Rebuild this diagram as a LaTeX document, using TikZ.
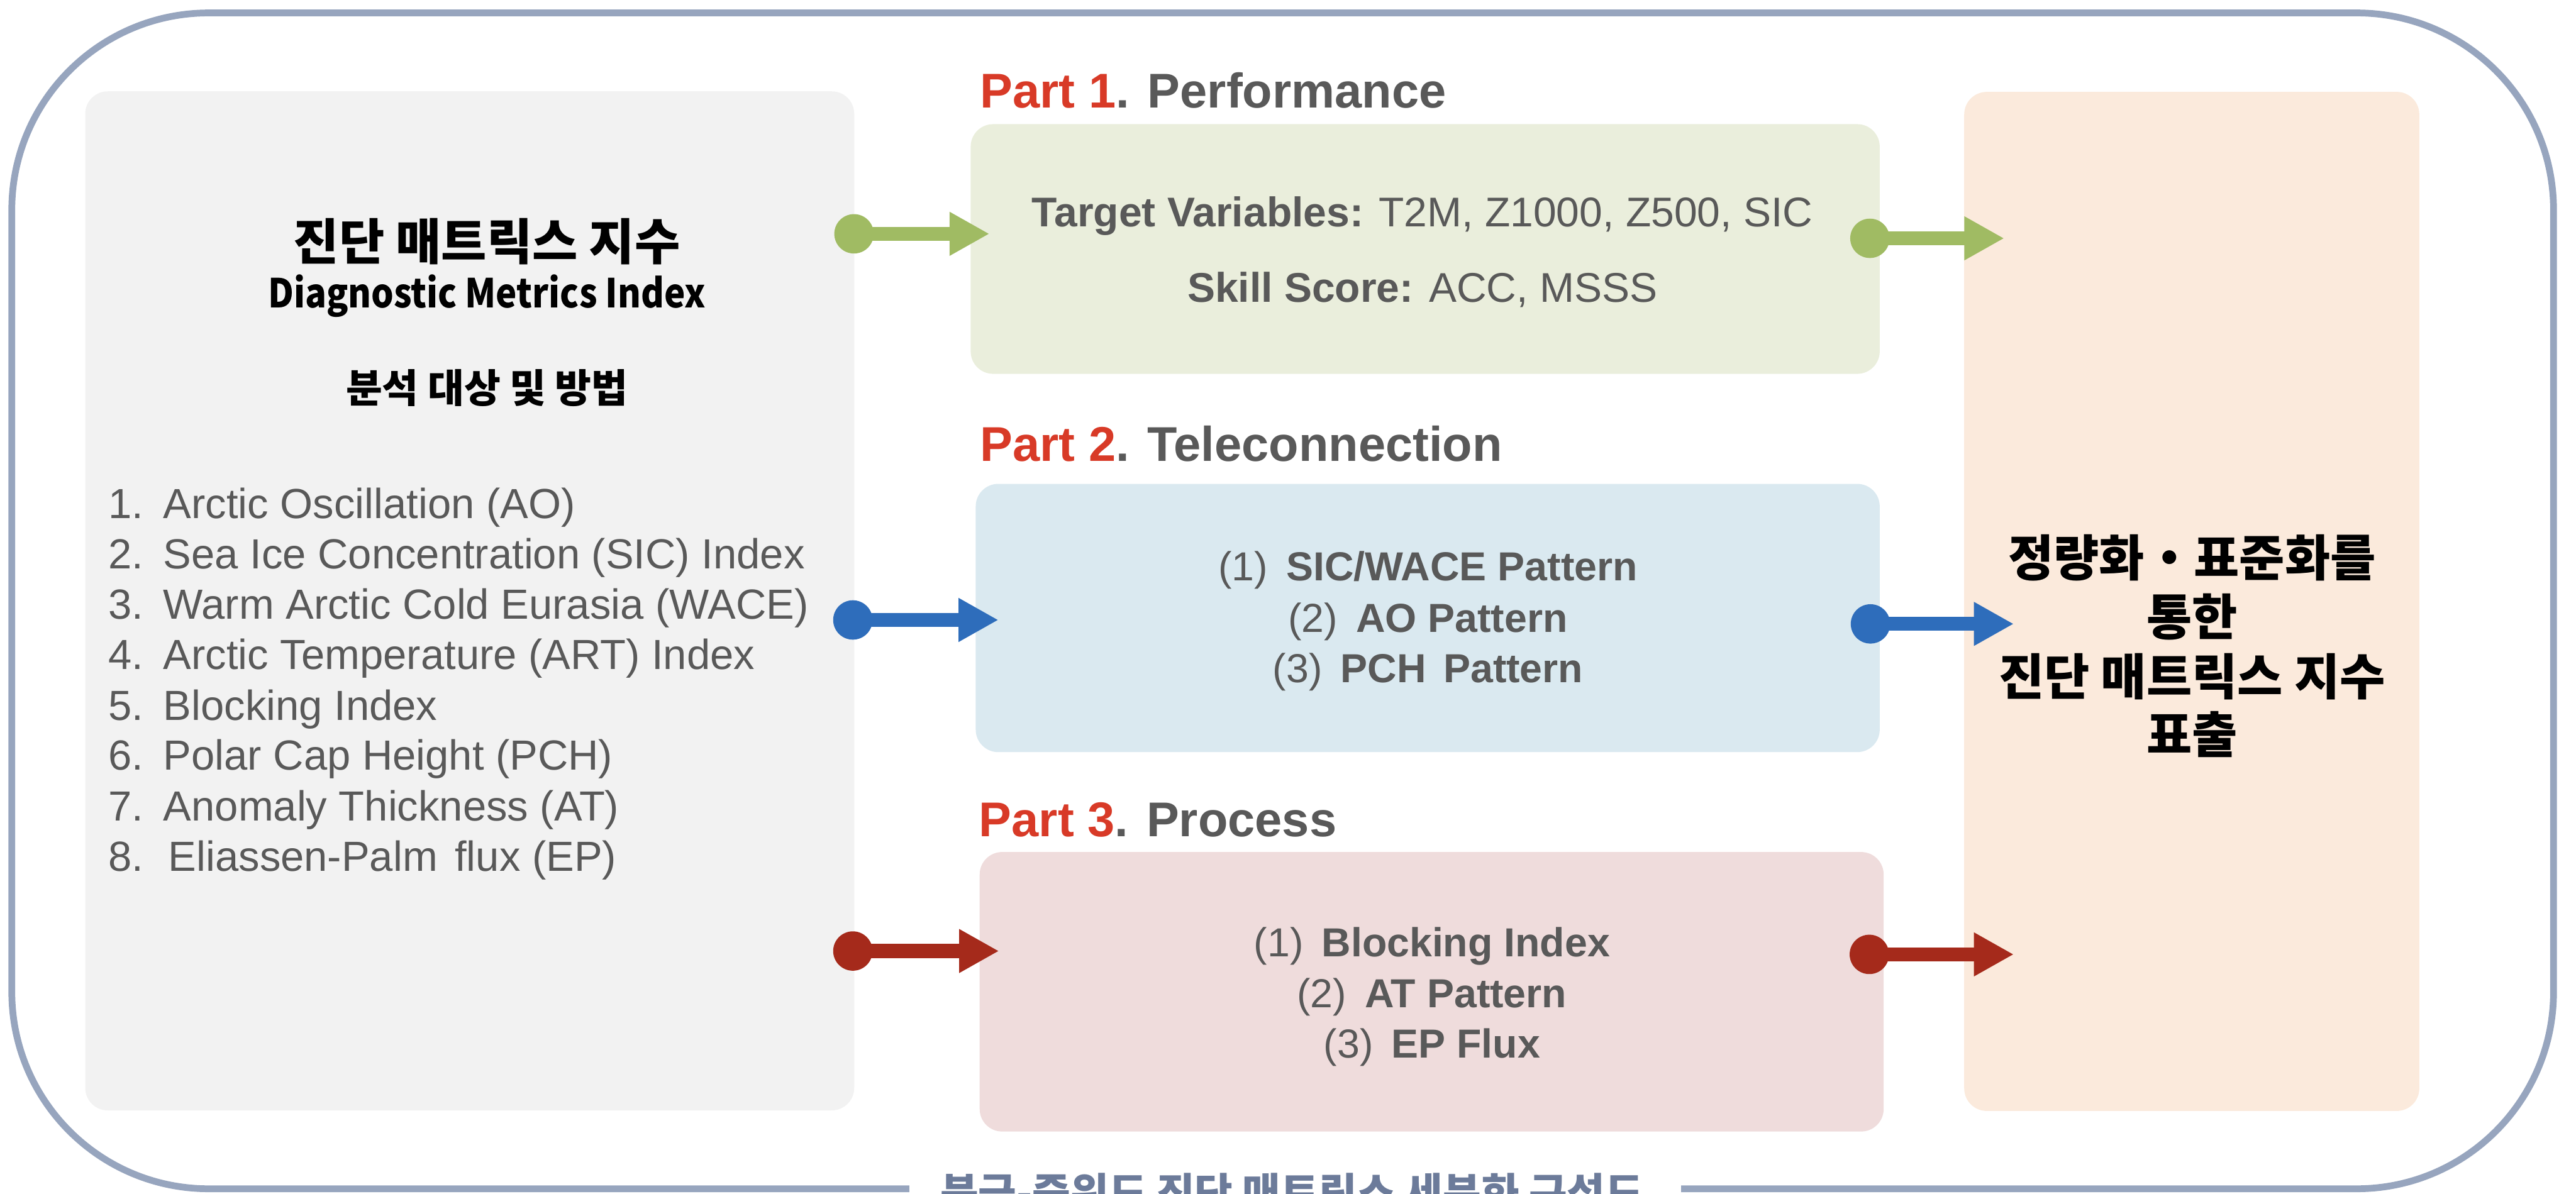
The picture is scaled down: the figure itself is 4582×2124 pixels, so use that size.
\documentclass[tikz,border=0pt]{standalone}
\usepackage{fontspec}
\setmainfont{Liberation Sans}
\newfontfamily\kr{Noto Sans CJK KR}
\usetikzlibrary{arrows.meta}
\definecolor{framec}{HTML}{97A5BE}
\definecolor{botc}{HTML}{6C7B9A}
\definecolor{grayboxc}{HTML}{F2F2F2}
\definecolor{gboxc}{HTML}{EAEEDC}
\definecolor{bboxc}{HTML}{DAE9F0}
\definecolor{rboxc}{HTML}{EFDCDC}
\definecolor{oboxc}{HTML}{FBEADC}
\definecolor{txtc}{HTML}{595959}
\definecolor{partred}{HTML}{D83A27}
\definecolor{garc}{HTML}{A0BB63}
\definecolor{barc}{HTML}{2E6DBB}
\definecolor{rarc}{HTML}{A52A1B}
\begin{document}
\begin{tikzpicture}[x=0.01cm,y=-0.01cm,
  panel/.style={draw=none,rounded corners=0.4cm,inner sep=0pt},
  txt/.style={inner sep=0pt,text=txtc},
  listtxt/.style={txt,anchor=base west,font=\fontsize{21.3}{25}\selectfont},
  parttxt/.style={txt,anchor=base west,font=\fontsize{24.7}{29}\selectfont\bfseries},
  boxtxt/.style={txt,anchor=base,font=\fontsize{20.5}{25}\selectfont},
  krtitle/.style={inner sep=0pt,anchor=base,text=black,font=\kr\bfseries\fontsize{25}{30}\selectfont},
  dot/.style={circle,inner sep=0pt,minimum size=0.7cm},
  conn/.style={line width=0.25cm,-{Triangle[length=0.71cm,width=0.73cm]}}
]
\useasboundingbox (0,0) rectangle (4582,2124);
% outer frame
\draw[framec,line width=0.12cm,rounded corners=3.5cm] (21,23) rectangle (4542,2115);
% bottom caption
\fill[white] (1618,2080) rectangle (2990,2130);
\node[inner sep=0pt,anchor=base,text=botc,font=\kr\bfseries\fontsize{21}{25}\selectfont] (caption) at (2298,2150) {북극-중위도 진단 매트릭스 세분화 구성도};

% panels
\node[panel,fill=grayboxc,minimum width=13.67cm,minimum height=18.12cm] (left) at (835.5,1069) {};
\node[panel,fill=gboxc,minimum width=16.16cm,minimum height=4.44cm] (p1) at (2535,443) {};
\node[panel,fill=bboxc,minimum width=16.07cm,minimum height=4.77cm] (p2) at (2539.5,1099.5) {};
\node[panel,fill=rboxc,minimum width=16.07cm,minimum height=4.97cm] (p3) at (2546.5,1764.5) {};
\node[panel,fill=oboxc,minimum width=8.09cm,minimum height=18.12cm] (out) at (3898.5,1070) {};

% left panel text
\node[krtitle] (ttl) at (866,462) {진단 매트릭스 지수};
\node[inner sep=0pt,anchor=base,text=black,font=\kr\bfseries\fontsize{20.2}{24}\selectfont] (ttlen) at (866,548) {\scalebox{0.885}[1]{Diagnostic Metrics Index}};
\node[inner sep=0pt,anchor=base,text=black,font=\kr\bfseries\fontsize{20}{24}\selectfont] (sub) at (866,716) {분석 대상 및 방법};
\node[listtxt] (l1) at (192,922) {\makebox[0.98cm][l]{1.}Arctic Oscillation (AO)};
\node[listtxt] (l2) at (192,1012) {\makebox[0.98cm][l]{2.}Sea Ice Concentration (SIC) Index};
\node[listtxt] (l3) at (192,1101) {\makebox[0.98cm][l]{3.}Warm Arctic Cold Eurasia (WACE)};
\node[listtxt] (l4) at (192,1191) {\makebox[0.98cm][l]{4.}Arctic Temperature (ART) Index};
\node[listtxt] (l5) at (192,1281) {\makebox[0.98cm][l]{5.}Blocking Index};
\node[listtxt] (l6) at (192,1370) {\makebox[0.98cm][l]{6.}Polar Cap Height (PCH)};
\node[listtxt] (l7) at (192,1460) {\makebox[0.98cm][l]{7.}Anomaly Thickness (AT)};
\node[listtxt] (l8) at (192,1550) {\makebox[1.07cm][l]{8.}Eliassen-Palm\hspace{0.1cm} flux (EP)};

% part titles
\node[parttxt] (t1) at (1743,192) {\textcolor{partred}{Part 1}. Performance};
\node[parttxt] (t2) at (1743,820) {\textcolor{partred}{Part 2}. Teleconnection};
\node[parttxt] (t3) at (1741,1488) {\textcolor{partred}{Part 3}. Process};

% part 1 text
\node[boxtxt,font=\fontsize{21}{25}\selectfont] (p1a) at (2530,403) {\textbf{Target Variables:} T2M, Z1000, Z500, SIC};
\node[boxtxt,font=\fontsize{21}{25}\selectfont] (p1b) at (2530,537) {\textbf{Skill Score:} ACC, MSSS};
% part 2 text
\node[boxtxt] (p2a) at (2540,1033) {(1)\hspace{0.45em}\textbf{SIC/WACE Pattern}};
\node[boxtxt] (p2b) at (2540,1125) {(2)\hspace{0.45em}\textbf{AO Pattern}};
\node[boxtxt] (p2c) at (2540,1214) {(3)\hspace{0.45em}\textbf{PCH\hspace{0.15em} Pattern}};
% part 3 text
\node[boxtxt] (p3a) at (2547,1702) {(1)\hspace{0.45em}\textbf{Blocking Index}};
\node[boxtxt] (p3b) at (2547,1793) {(2)\hspace{0.45em}\textbf{AT Pattern}};
\node[boxtxt] (p3c) at (2547,1882) {(3)\hspace{0.45em}\textbf{EP Flux}};

% output text
\node[krtitle] (o1) at (3899,1025) {정량화・표준화를};
\node[krtitle] (o2) at (3899,1130) {통한};
\node[krtitle] (o3) at (3899,1237) {진단 매트릭스 지수};
\node[krtitle] (o4) at (3899,1340) {표출};

% connectors
\node[dot,fill=garc] (g1) at (1519,416) {};
\coordinate (g1t) at (1760,416);
\draw[conn,garc] (g1.center) -- (g1t);
\node[dot,fill=garc] (g2) at (3326,424) {};
\coordinate (g2t) at (3565,424);
\draw[conn,garc] (g2.center) -- (g2t);

\node[dot,fill=barc] (b1) at (1517,1103) {};
\coordinate (b1t) at (1776,1103);
\draw[conn,barc] (b1.center) -- (b1t);
\node[dot,fill=barc] (b2) at (3327,1110) {};
\coordinate (b2t) at (3582,1110);
\draw[conn,barc] (b2.center) -- (b2t);

\node[dot,fill=rarc] (r1) at (1517,1692) {};
\coordinate (r1t) at (1777,1692);
\draw[conn,rarc] (r1.center) -- (r1t);
\node[dot,fill=rarc] (r2) at (3325,1698) {};
\coordinate (r2t) at (3582,1698);
\draw[conn,rarc] (r2.center) -- (r2t);
\end{tikzpicture}
\end{document}
